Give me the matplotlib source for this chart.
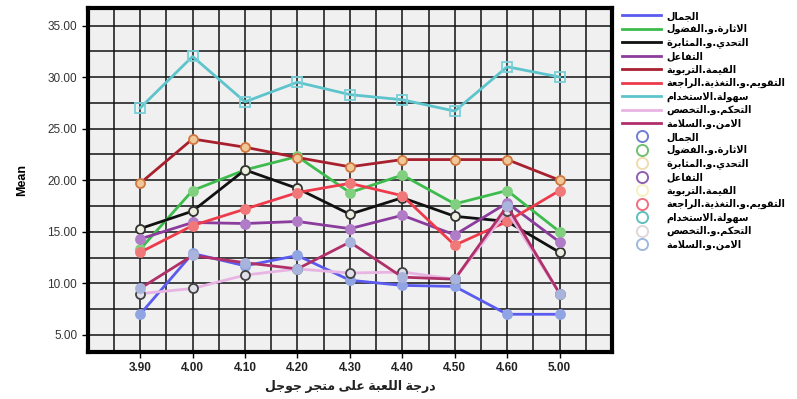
import matplotlib
matplotlib.use('Agg')
import matplotlib.pyplot as plt
from matplotlib.lines import Line2D
from matplotlib.ticker import MultipleLocator, FormatStrFormatter

plt.rcParams['font.family'] = ['Liberation Sans', 'DejaVu Sans']

# البيانات
x_labels = ['3.90', '4.00', '4.10', '4.20', '4.30', '4.40', '4.50', '4.60', '5.00']
names = ['الجمال', 'الاثارة.و.الفضول', 'التحدي.و.المثابرة', 'التفاعل',
         'القيمة.التربوية', 'التقويم.و.التغذية.الراجعة', 'سهولة.الاستخدام',
         'التحكم.و.التخصص', 'الامن.و.السلامة']

jamal = [7.0, 12.9, 11.7, 12.7, 10.3, 9.8, 9.7, 7.0, 7.0]
ithara = [13.3, 19.0, 21.0, 22.3, 18.8, 20.5, 17.7, 19.0, 15.0]
tahaddi = [15.3, 17.0, 21.0, 19.2, 16.7, 18.3, 16.5, 16.0, 13.0]
tafaul = [14.3, 15.9, 15.8, 16.0, 15.3, 16.6, 14.7, 17.8, 14.0]
qima = [19.7, 24.0, 23.2, 22.2, 21.3, 22.0, 22.0, 22.0, 20.0]
taqwim = [13.0, 15.6, 17.2, 18.8, 19.7, 18.5, 13.7, 16.0, 19.0]
suhula = [27.0, 32.0, 27.6, 29.5, 28.3, 27.8, 26.7, 31.0, 30.0]
tahakkum = [9.0, 9.5, 10.8, 11.4, 11.0, 11.1, 10.4, 17.0, 9.0]
amn = [9.5, 12.7, 12.0, 11.4, 14.0, 10.6, 10.4, 17.5, 9.0]
series = [jamal, ithara, tahaddi, tafaul, qima, taqwim, suhula, tahakkum, amn]

line_colors = ['#5b5bef', '#3dbb4c', '#111111', '#8b3c9c', '#a8202e',
               '#ee3b4c', '#5ec4cc', '#e8b4e4', '#b0306a']
face_colors = ['#90a4e4', '#80d080', '#eeeee0', '#b07cc8', '#f0c898',
               '#f07878', 'none', '#e0e0ea', '#a8b4dc']
edge_colors = ['#90a4e4', '#80d080', '#333333', '#b07cc8', '#d07840',
               '#f07878', '#78d0d8', '#444444', '#a8b4dc']
markers = ['o', 'o', 'o', 'o', 'o', 'o', 's', 'o', 'o']
ring_colors = ['#7080d0', '#70c070', '#f0dcb0', '#9060b0', '#f8f0c0',
               '#f07080', '#60c0c0', '#e0d8d8', '#a0b8e0']

# تشكيل الحروف العربية (matplotlib لا يدعم الكتابة من اليمين لليسار)
DUAL = {'ب': 0xFE8F, 'ت': 0xFE95, 'ث': 0xFE99, 'ج': 0xFE9D, 'ح': 0xFEA1, 'خ': 0xFEA5,
        'س': 0xFEB1, 'ش': 0xFEB5, 'ص': 0xFEB9, 'ض': 0xFEBD, 'ط': 0xFEC1, 'ظ': 0xFEC5,
        'ع': 0xFEC9, 'غ': 0xFECD, 'ف': 0xFED1, 'ق': 0xFED5, 'ك': 0xFED9, 'ل': 0xFEDD,
        'م': 0xFEE1, 'ن': 0xFEE5, 'ه': 0xFEE9, 'ي': 0xFEF1, 'ئ': 0xFE89}
RIGHT = {'آ': 0xFE81, 'أ': 0xFE83, 'ؤ': 0xFE85, 'إ': 0xFE87, 'ا': 0xFE8D, 'ة': 0xFE93,
         'د': 0xFEA9, 'ذ': 0xFEAB, 'ر': 0xFEAD, 'ز': 0xFEAF, 'و': 0xFEED, 'ى': 0xFEEF}
LAMALEF = {'آ': 0xFEF5, 'أ': 0xFEF7, 'إ': 0xFEF9, 'ا': 0xFEFB}


def ar(text):
    out = []
    i = 0
    prev_dual = False
    while i < len(text):
        c = text[i]
        nxt = text[i + 1] if i + 1 < len(text) else ''
        if c == 'ل' and nxt in LAMALEF:
            out.append(chr(LAMALEF[nxt] + (1 if prev_dual else 0)))
            prev_dual = False
            i += 2
            continue
        if c in DUAL:
            next_join = nxt in DUAL or nxt in RIGHT
            idx = {(False, False): 0, (True, False): 1,
                   (False, True): 2, (True, True): 3}[(prev_dual, next_join)]
            out.append(chr(DUAL[c] + idx))
            prev_dual = True
        elif c in RIGHT:
            out.append(chr(RIGHT[c] + (1 if prev_dual else 0)))
            prev_dual = False
        else:
            out.append(c)
            prev_dual = False
        i += 1
    return ''.join(out)[::-1]


fig = plt.figure(figsize=(7.97, 3.99), dpi=100)
ax = fig.add_axes([0.110, 0.118, 0.658, 0.862])
ax.set_facecolor('#f0f0f0')

xs = list(range(len(x_labels)))
for vals, lc, fc, ec, mk in zip(series, line_colors, face_colors, edge_colors, markers):
    ax.plot(xs, vals, color=lc, linewidth=2, marker=mk, markersize=6.5,
            markerfacecolor=fc, markeredgecolor=ec, markeredgewidth=1.3, zorder=3)

ax.set_xlim(-1, 9)
ax.set_ylim(3.35, 36.7)
ax.set_xticks(xs)
ax.set_xticklabels(x_labels, fontsize=8.5, fontweight='bold', color='#222222')
ax.xaxis.set_minor_locator(MultipleLocator(0.5))
ax.yaxis.set_major_locator(MultipleLocator(5))
ax.yaxis.set_minor_locator(MultipleLocator(2.5))
ax.yaxis.set_major_formatter(FormatStrFormatter('%.2f'))
for lab in ax.get_yticklabels():
    lab.set_fontsize(8.5)
    lab.set_color('#333333')
ax.tick_params(which='minor', length=0)
ax.tick_params(which='major', length=4, width=1)
ax.grid(True, which='both', color='#111111', linewidth=1.1, zorder=1)
ax.set_axisbelow(True)
for sp in ax.spines.values():
    sp.set_linewidth(3)

ax.set_ylabel('Mean', fontsize=9, fontweight='bold', labelpad=14)
ax.set_xlabel(ar('درجة اللعبة على متجر جوجل'), fontsize=9, fontweight='bold',
              color='#222222', labelpad=4)

handles = [Line2D([], [], color=c, linewidth=2) for c in line_colors]
handles += [Line2D([], [], linestyle='none', marker='o', markersize=8,
                   markerfacecolor='none', markeredgecolor=c, markeredgewidth=1.4)
            for c in ring_colors]
labels = [ar(n) for n in names] * 2
fig.legend(handles, labels, loc='upper left', bbox_to_anchor=(0.772, 0.99),
           frameon=False, labelspacing=0.33, handlelength=4,
           handletextpad=0.6, borderpad=0.2,
           prop={'family': ['DejaVu Sans'], 'size': 7, 'weight': 'bold'})

fig.savefig('out.png', dpi=100)
